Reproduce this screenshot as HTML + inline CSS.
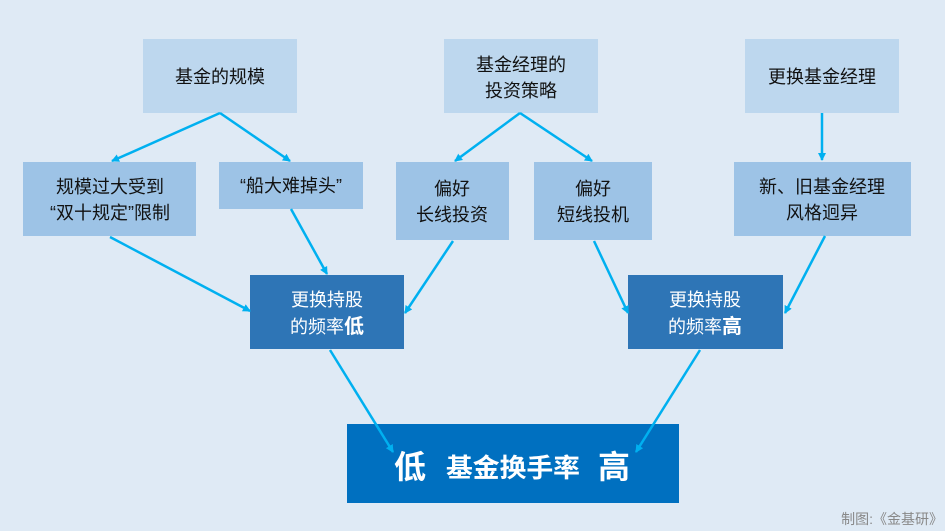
<!DOCTYPE html>
<html><head><meta charset="utf-8"><style>
body{margin:0;background:#dfeaf5;}
svg{display:block;font-family:"Liberation Sans","Noto Sans CJK SC",sans-serif;}
</style></head><body>
<svg width="945" height="531" viewBox="0 0 945 531">
<defs><marker id="a" markerWidth="8" markerHeight="8" refX="7" refY="4" orient="auto" markerUnits="userSpaceOnUse"><path d="M0,0 L8,4 L0,8 z" fill="#00b0f0"/></marker></defs>
<rect width="945" height="531" fill="#dfeaf5"/>
<g fill="#bdd7ee">
<rect x="143" y="39" width="154" height="74"/>
<rect x="444" y="39" width="154" height="74"/>
<rect x="745" y="39" width="154" height="74"/>
</g>
<g fill="#9dc3e6">
<rect x="23" y="162" width="173" height="74"/>
<rect x="219" y="162" width="144" height="47"/>
<rect x="396" y="162" width="113" height="78"/>
<rect x="534" y="162" width="118" height="78"/>
<rect x="734" y="162" width="177" height="74"/>
</g>
<rect x="250" y="275" width="154" height="74" fill="#2e75b6"/>
<rect x="628" y="275" width="155" height="74" fill="#2e75b6"/>
<rect x="347" y="424" width="332" height="79" fill="#0070c0"/>
<g stroke="#00b0f0" stroke-width="2.5" fill="none" marker-end="url(#a)">
<line x1="220" y1="113" x2="112" y2="161"/>
<line x1="220" y1="113" x2="290" y2="161"/>
<line x1="520" y1="113" x2="455" y2="161"/>
<line x1="520" y1="113" x2="592" y2="161"/>
<line x1="822" y1="113" x2="822" y2="160"/>
<line x1="110" y1="237" x2="250" y2="311"/>
<line x1="291" y1="209" x2="327" y2="274"/>
<line x1="453" y1="241" x2="405" y2="313"/>
<line x1="594" y1="241" x2="628" y2="313"/>
<line x1="825" y1="236" x2="785" y2="313"/>
<line x1="330" y1="350" x2="393" y2="452"/>
<line x1="700" y1="350" x2="636" y2="452"/>
</g>
<g font-size="18" fill="#111" text-anchor="middle">
<text x="220" y="83">基金的规模</text>
<text x="521" y="71">基金经理的</text>
<text x="521" y="97">投资策略</text>
<text x="822" y="83">更换基金经理</text>
<text x="110" y="193">规模过大受到</text>
<text x="110" y="219">“双十规定”限制</text>
<text x="291" y="192">“船大难掉头”</text>
<text x="452" y="195">偏好</text>
<text x="452" y="221">长线投资</text>
<text x="593" y="195">偏好</text>
<text x="593" y="221">短线投机</text>
<text x="822" y="193">新、旧基金经理</text>
<text x="822" y="219">风格迥异</text>
</g>
<g font-size="18" fill="#fff" text-anchor="middle">
<text x="327" y="306">更换持股</text>
<text x="327" y="333">的频率<tspan font-weight="bold" font-size="20">低</tspan></text>
<text x="705" y="306">更换持股</text>
<text x="705" y="333">的频率<tspan font-weight="bold" font-size="20">高</tspan></text>
</g>
<g fill="#fff" font-weight="bold">
<text x="394" y="478" font-size="32">低</text>
<text x="446" y="477" font-size="26" textLength="134" lengthAdjust="spacingAndGlyphs">基金换手率</text>
<text x="598" y="478" font-size="32">高</text>
</g>
<text x="943" y="524" font-size="14" fill="#888" text-anchor="end">制图:《金基研》</text>
</svg>
</body></html>
